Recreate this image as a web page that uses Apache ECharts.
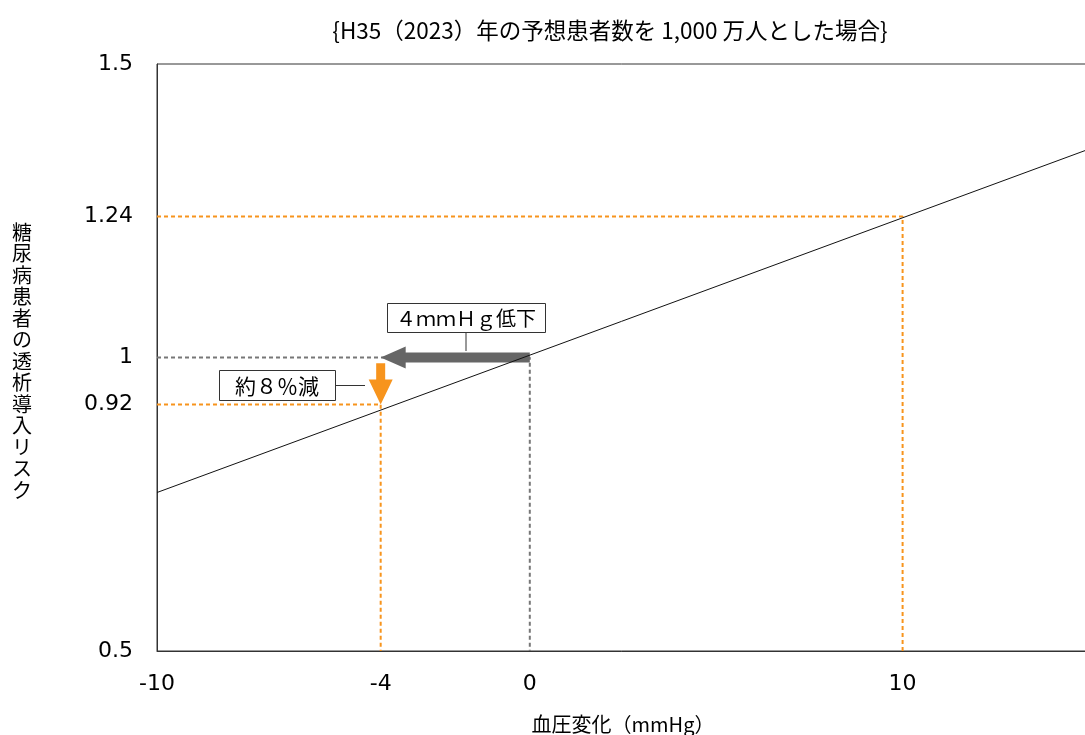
<!DOCTYPE html>
<html>
<head>
<meta charset="utf-8">
<script src="https://cdn.jsdelivr.net/npm/echarts@6/dist/echarts.min.js"></script>
<style>html,body{margin:0;padding:0;background:#fff;}#c{width:1085px;height:735px;}</style>
</head>
<body>
<div id="c"></div>
<script>
// ---- data ----
const titleText = '{H35（2023）年の予想患者数を 1,000 万人とした場合}';
const xName = '血圧変化（mmHg）';
const yName = '糖尿病患者の透析導入リスク';
const xTicks = [-10, -4, 0, 10];
const yTicks = [0.5, 0.92, 1, 1.24, 1.5];
const xRange = [-10, 15];
const yRange = [0.5, 1.5];
const riskLine = [[-10, 0.77], [15, 1.355]];
const guide124 = [[-10, 1.24], [10, 1.24], [10, 0.5]];
const guide092 = [[-10, 0.92], [-4, 0.92], [-4, 0.5]];
const guide100 = [[-10, 1], [0, 1], [0, 0.5]];
const arrows = [[0, 1, -4, 1], [-4, 0.99, -4, 0.92]];
const labelBP = '４ｍｍＨｇ低下';
const labelRisk = '約８％減';

const FONT = "'DejaVu Sans','Noto Sans CJK JP',sans-serif";
const CJK = "'Noto Sans CJK JP','DejaVu Sans',sans-serif";
const ORANGE = '#F7941D';
const GRAY = '#777777';

const arrowStyles = [
  {color: '#666666', shaft: 10, headLen: 25, headW: 22},
  {color: ORANGE, shaft: 9, headLen: 25, headW: 24}
];

const chart = echarts.init(document.getElementById('c'), null, {renderer: 'canvas'});

function dashed(data, color) {
  return {
    type: 'line', data: data, symbol: 'none', silent: true, z: 2,
    lineStyle: {color: color, width: 2, type: [4, 3]}
  };
}

chart.setOption({
  animation: false,
  backgroundColor: '#ffffff',
  title: {
    text: titleText, left: 605, top: 14, textAlign: 'center',
    textStyle: {fontFamily: CJK, fontSize: 22.5, fontWeight: 'normal', color: '#000'}
  },
  grid: {
    left: 157, right: -4, top: 64, bottom: 84,
    outerBoundsMode: 'none', containLabel: false,
    show: true, borderColor: '#333', borderWidth: 1, backgroundColor: 'transparent'
  },
  xAxis: {
    type: 'value', min: xRange[0], max: xRange[1],
    name: xName, nameLocation: 'middle', nameGap: 63,
    nameTextStyle: {fontFamily: CJK, fontSize: 20, color: '#000'},
    axisLine: {show: true, onZero: false, lineStyle: {color: '#333', width: 1}},
    axisTick: {show: false},
    splitLine: {show: false},
    axisLabel: {
      customValues: xTicks, margin: 22,
      fontFamily: FONT, fontSize: 22, color: '#000'
    }
  },
  yAxis: {
    type: 'value', min: yRange[0], max: yRange[1],
    axisLine: {show: true, onZero: false, lineStyle: {color: '#333', width: 1}},
    axisTick: {show: false},
    splitLine: {show: false},
    axisLabel: {
      customValues: yTicks, margin: 24,
      fontFamily: FONT, fontSize: 22, color: '#000',
      formatter: function (v) { return String(v); }
    }
  },
  series: [
    dashed(guide100, GRAY),
    dashed(guide124, ORANGE),
    dashed(guide092, ORANGE),
    {
      type: 'custom', z: 3, silent: true,
      data: arrows,
      renderItem: function (params, api) {
        const s = arrowStyles[params.dataIndex];
        const p1 = api.coord([api.value(0), api.value(1)]);
        const p2 = api.coord([api.value(2), api.value(3)]);
        const dx = p2[0] - p1[0], dy = p2[1] - p1[1];
        const len = Math.sqrt(dx * dx + dy * dy) || 1;
        const ux = dx / len, uy = dy / len;
        const nx = -uy, ny = ux;
        const bx = p2[0] - ux * s.headLen, by = p2[1] - uy * s.headLen;
        const w = s.shaft / 2, h = s.headW / 2;
        const pts = [
          [p1[0] + nx * w, p1[1] + ny * w],
          [bx + nx * w, by + ny * w],
          [bx + nx * h, by + ny * h],
          [p2[0], p2[1]],
          [bx - nx * h, by - ny * h],
          [bx - nx * w, by - ny * w],
          [p1[0] - nx * w, p1[1] - ny * w]
        ];
        return {type: 'polygon', shape: {points: pts}, style: {fill: s.color, stroke: null}};
      }
    },
    {
      type: 'line', data: riskLine, symbol: 'none', silent: true, z: 4,
      lineStyle: {color: '#111', width: 1}
    }
  ],
  graphic: [
    {
      type: 'text', x: 22, y: 361, z: 10,
      style: {
        text: yName.split('').join('\n'), fill: '#000',
        font: '20px ' + CJK, lineHeight: 21.5,
        textAlign: 'center', textVerticalAlign: 'middle'
      }
    },
    {type: 'line', z: 10, shape: {x1: 466, y1: 332, x2: 466, y2: 351}, style: {stroke: '#333', lineWidth: 1}},
    {type: 'rect', z: 10, shape: {x: 387.5, y: 303.5, width: 158, height: 29}, style: {fill: '#fff', stroke: '#333', lineWidth: 1}},
    {type: 'text', z: 11, x: 466, y: 318, style: {text: labelBP, fill: '#000', font: '20px ' + CJK, textAlign: 'center', textVerticalAlign: 'middle'}},
    {type: 'line', z: 10, shape: {x1: 335, y1: 385.5, x2: 365, y2: 385.5}, style: {stroke: '#333', lineWidth: 1}},
    {type: 'rect', z: 10, shape: {x: 219.5, y: 370.5, width: 116, height: 30}, style: {fill: '#fff', stroke: '#333', lineWidth: 1}},
    {type: 'text', z: 11, x: 277, y: 386, style: {text: labelRisk, fill: '#000', font: '21px ' + CJK, textAlign: 'center', textVerticalAlign: 'middle'}}
  ]
});
</script>
</body>
</html>
